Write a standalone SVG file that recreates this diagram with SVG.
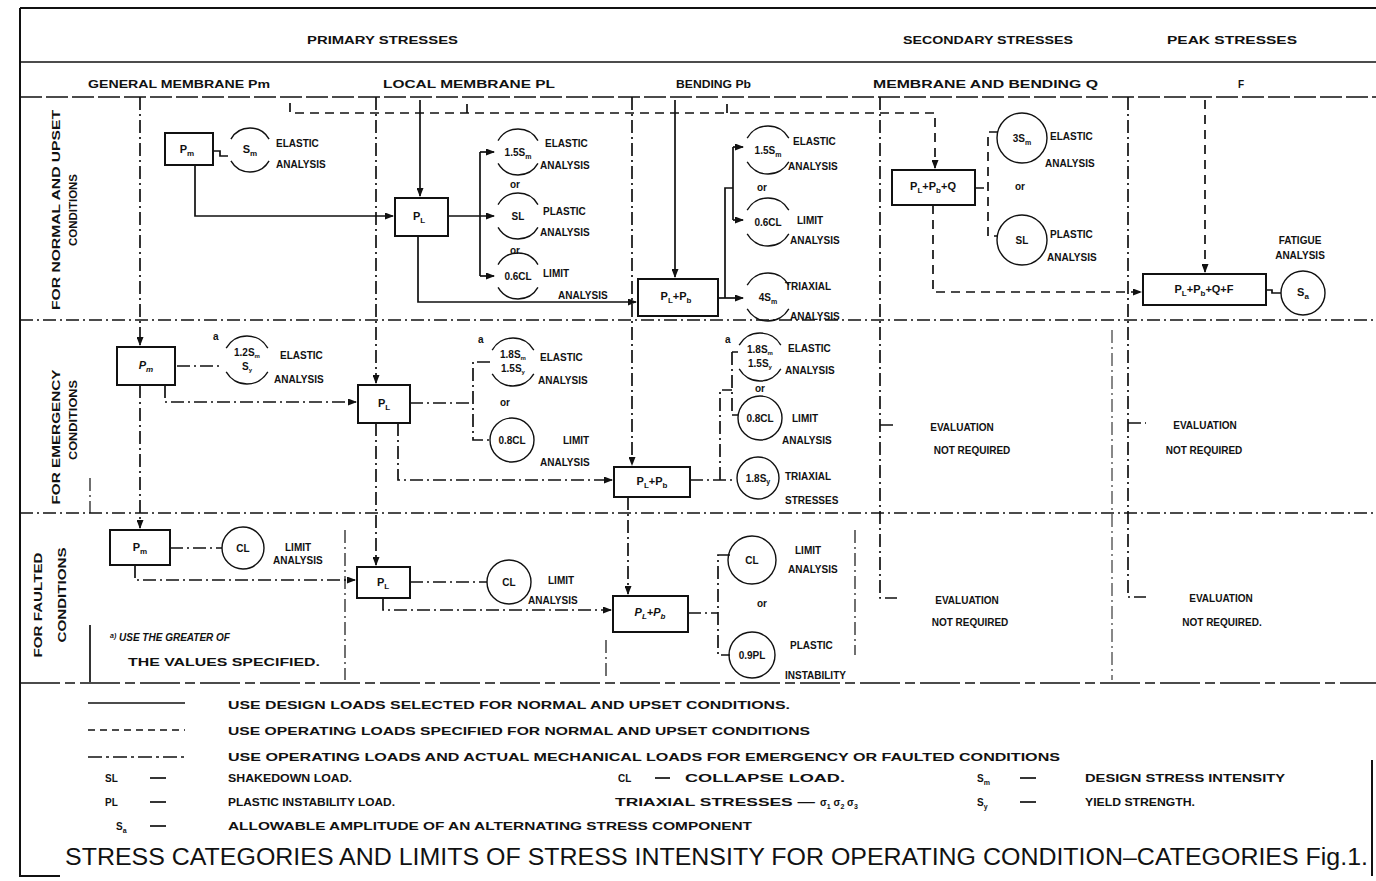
<svg xmlns="http://www.w3.org/2000/svg" width="1376" height="881" viewBox="0 0 1376 881">
<defs>
<marker id="ar" markerWidth="9" markerHeight="7" refX="8" refY="3.5" orient="auto" markerUnits="userSpaceOnUse"><path d="M0,0 L9,3.5 L0,7 z" fill="#111"/></marker>
<style>
.s{stroke:#111;fill:none;stroke-width:1.7}
.d{stroke-dasharray:9 6}
.dd{stroke-dasharray:13 4 2 4}
.fr{stroke:#111;fill:none;stroke-width:2}
.bx{fill:#fff;stroke:#111;stroke-width:2}
.c{fill:none;stroke:#111;stroke-width:1.4}
.cb{fill:none;stroke:#111;stroke-width:1.4;stroke-dasharray:0 30 120 60 120 30}
.t{font-family:"Liberation Sans",Arial,sans-serif;font-weight:bold;font-size:10px;fill:#111}
.tb{font-family:"Liberation Sans",Arial,sans-serif;font-weight:bold;font-size:11px;fill:#111}
.tt{font-family:"Liberation Sans",Arial,sans-serif;font-size:23px;fill:#111}
.m{text-anchor:middle}
</style>
</defs>
<rect width="1376" height="881" fill="#fff"/>

<g id="frame">
<path class="fr" d="M20,8 H1376 M20,8 V876 H60 M1372,760 V876"/>
<path class="s" d="M20,62 H1376"/>
<path class="s" d="M20,97 H1376" stroke-dasharray="22 4"/>
<path class="s dd" d="M20,320 H1376 M20,513 H1376"/>
<path class="s" d="M20,683 H1376" stroke-dasharray="40 5 10 5"/>
</g>

<g id="headers">
<text class="t" x="307" y="44" textLength="151" lengthAdjust="spacingAndGlyphs">PRIMARY STRESSES</text>
<text class="t" x="903" y="44" textLength="170" lengthAdjust="spacingAndGlyphs">SECONDARY STRESSES</text>
<text class="t" x="1167" y="44" textLength="130" lengthAdjust="spacingAndGlyphs">PEAK STRESSES</text>
<text class="t" x="88" y="88" textLength="182" lengthAdjust="spacingAndGlyphs">GENERAL MEMBRANE Pm</text>
<text class="t" x="383" y="88" textLength="172" lengthAdjust="spacingAndGlyphs">LOCAL MEMBRANE PL</text>
<text class="t" x="676" y="88" textLength="75" lengthAdjust="spacingAndGlyphs">BENDING Pb</text>
<text class="t" x="873" y="88" textLength="225" lengthAdjust="spacingAndGlyphs">MEMBRANE AND BENDING Q</text>
<text class="t" x="1238" y="88">F</text>
</g>

<g id="row-labels">
<text class="t m" transform="translate(60,210) rotate(-90)" textLength="200" lengthAdjust="spacingAndGlyphs">FOR NORMAL AND UPSET</text>
<text class="t m" transform="translate(77,210) rotate(-90)" textLength="72" lengthAdjust="spacingAndGlyphs">CONDITIONS</text>
<text class="t m" transform="translate(60,437) rotate(-90)" textLength="135" lengthAdjust="spacingAndGlyphs">FOR EMERGENCY</text>
<text class="t m" transform="translate(77,420) rotate(-90)" textLength="80" lengthAdjust="spacingAndGlyphs">CONDITIONS</text>
<text class="t m" transform="translate(42,605) rotate(-90)" textLength="105" lengthAdjust="spacingAndGlyphs">FOR FAULTED</text>
<text class="t m" transform="translate(66,595) rotate(-90)" textLength="95" lengthAdjust="spacingAndGlyphs">CONDITIONS</text>
</g>

<g id="connectors">
<g class="s">
<path d="M195,165 V216 H393" marker-end="url(#ar)"/>
<path d="M213,151 H220 V156 H228"/>
<path d="M420,100 V196" marker-end="url(#ar)"/>
<path d="M448,216 H494" marker-end="url(#ar)"/>
<path d="M480,152 V276"/>
<path d="M480,152 H494" marker-end="url(#ar)"/>
<path d="M480,276 H494" marker-end="url(#ar)"/>
<path d="M418,236 V302 H636" marker-end="url(#ar)"/>
<path d="M675,100 V277" marker-end="url(#ar)"/>
<path d="M718,298 H743" marker-end="url(#ar)"/>
<path d="M725,298 V188 H733"/>
<path d="M733,147 V220"/>
<path d="M733,147 H743" marker-end="url(#ar)"/>
<path d="M733,220 H743" marker-end="url(#ar)"/>
<path d="M1266,290 H1272 V293 H1281"/>
<path d="M90,625 V682"/>
</g>
<g class="s d">
<path d="M290,103 V113 H935 V168" marker-end="url(#ar)"/>
<path d="M467,104 V113 M727,104 V113"/>
<path d="M933,205 V292 H1141" marker-end="url(#ar)"/>
<path d="M975,188 H988 M998,132 H988 V236 H998"/>
<path d="M1205,100 V272" marker-end="url(#ar)"/>
</g>
<g class="s dd">
<path d="M140,97 V345" marker-end="url(#ar)"/>
<path d="M376,97 V383" marker-end="url(#ar)"/>
<path d="M376,423 V565" marker-end="url(#ar)"/>
<path d="M632,97 V465" marker-end="url(#ar)"/>
<path d="M628,497 V594" marker-end="url(#ar)"/>
<path d="M880,97 V598 H897 M880,425 H897"/>
<path d="M1128,97 V597 H1146 M1128,423 H1146"/>
<path d="M1112,330 V680" stroke-width="1"/>
<path d="M177,366 H222"/>
<path d="M165,385 V402 H356" marker-end="url(#ar)"/>
<path d="M140,385 V528" marker-end="url(#ar)"/>
<path d="M410,403 H473 M490,362 H473 V440 H490"/>
<path d="M398,423 V480 H612" marker-end="url(#ar)"/>
<path d="M690,480 H736 M720,480 V390 H732 M732,352 V415 M732,352 H738 M732,415 H738"/>
<path d="M170,548 H222"/>
<path d="M135,565 V580 H355" marker-end="url(#ar)"/>
<path d="M410,582 H487"/>
<path d="M383,598 V610 H611" marker-end="url(#ar)"/>
<path d="M688,613 H718 M730,555 H718 V655 H730"/>
<path d="M90,478 V513 M345,530 V680 M606,640 V680 M855,530 V655" stroke-width="1.2"/>
</g>
</g>

<g id="r1-pm"><rect class="bx" x="165" y="133" width="48" height="32"/><text class="tb m" x="187" y="153">P<tspan dy="3" font-size="8">m</tspan></text></g>
<g id="r1-sm"><circle class="cb" cx="250" cy="150" r="22" pathLength="360"/><text class="tb m" x="250" y="153">S<tspan dy="3" font-size="8">m</tspan></text>
<text class="t" x="276" y="147">ELASTIC</text><text class="t" x="276" y="168">ANALYSIS</text></g>

<g id="r1-pl"><rect class="bx" x="395" y="198" width="53" height="38"/><text class="tb m" x="419" y="220">P<tspan dy="3" font-size="8">L</tspan></text></g>
<g id="r1-pl-lim">
<circle class="cb" cx="518" cy="152" r="23" pathLength="360"/><text class="t m" x="518" y="156">1.5S<tspan dy="3" font-size="7">m</tspan></text>
<text class="t" x="545" y="147">ELASTIC</text><text class="t" x="540" y="169">ANALYSIS</text>
<text class="t m" x="515" y="188">or</text>
<circle class="cb" cx="518" cy="216" r="23" pathLength="360"/><text class="t m" x="518" y="220">SL</text>
<text class="t" x="543" y="215">PLASTIC</text><text class="t" x="540" y="236">ANALYSIS</text>
<text class="t m" x="515" y="254">or</text>
<circle class="cb" cx="518" cy="276" r="23" pathLength="360"/><text class="t m" x="518" y="280">0.6CL</text>
<text class="t" x="543" y="277">LIMIT</text><text class="t" x="558" y="299">ANALYSIS</text>
</g>

<g id="r1-plpb"><rect class="bx" x="638" y="279" width="80" height="37"/><text class="tb m" x="676" y="300">P<tspan dy="3" font-size="8">L</tspan><tspan dy="-3">+P</tspan><tspan dy="3" font-size="8">b</tspan></text></g>
<g id="r1-pb-lim">
<circle class="cb" cx="768" cy="150" r="24" pathLength="360"/><text class="t m" x="768" y="154">1.5S<tspan dy="3" font-size="7">m</tspan></text>
<text class="t" x="793" y="145">ELASTIC</text><text class="t" x="788" y="170">ANALYSIS</text>
<text class="t m" x="762" y="191">or</text>
<circle class="cb" cx="768" cy="222" r="24" pathLength="360"/><text class="t m" x="768" y="226">0.6CL</text>
<text class="t" x="797" y="224">LIMIT</text><text class="t" x="790" y="244">ANALYSIS</text>
<circle class="cb" cx="768" cy="297" r="24" pathLength="360"/><text class="t m" x="768" y="301">4S<tspan dy="3" font-size="7">m</tspan></text>
<text class="t" x="785" y="290">TRIAXIAL</text><text class="t" x="790" y="320">ANALYSIS</text>
</g>

<g id="r1-plpbq"><rect class="bx" x="892" y="170" width="83" height="35"/><text class="tb m" x="933" y="190">P<tspan dy="3" font-size="8">L</tspan><tspan dy="-3">+P</tspan><tspan dy="3" font-size="8">b</tspan><tspan dy="-3">+Q</tspan></text></g>
<g id="r1-q-lim">
<circle class="c" cx="1022" cy="138" r="25"/><text class="t m" x="1022" y="142">3S<tspan dy="3" font-size="7">m</tspan></text>
<text class="t" x="1050" y="140">ELASTIC</text><text class="t" x="1045" y="167">ANALYSIS</text>
<text class="t m" x="1020" y="190">or</text>
<circle class="c" cx="1022" cy="240" r="25"/><text class="t m" x="1022" y="244">SL</text>
<text class="t" x="1050" y="238">PLASTIC</text><text class="t" x="1047" y="261">ANALYSIS</text>
</g>

<g id="r1-pqf"><rect class="bx" x="1143" y="274" width="123" height="31"/><text class="tb m" x="1204" y="293">P<tspan dy="3" font-size="8">L</tspan><tspan dy="-3">+P</tspan><tspan dy="3" font-size="8">b</tspan><tspan dy="-3">+Q+F</tspan></text></g>
<g id="r1-sa"><circle class="c" cx="1303" cy="293" r="22"/><text class="tb m" x="1303" y="296">S<tspan dy="3" font-size="8">a</tspan></text>
<text class="t m" x="1300" y="244">FATIGUE</text><text class="t m" x="1300" y="259">ANALYSIS</text></g>

<g id="r2-pm"><rect class="bx" x="117" y="347" width="58" height="38"/><text class="tb m" x="146" y="369" font-style="italic">P<tspan dy="3" font-size="8">m</tspan></text></g>
<g id="r2-pm-lim">
<text class="t" x="213" y="340" font-size="8">a</text>
<circle class="cb" cx="247" cy="360" r="24" pathLength="360"/><text class="t m" x="247" y="356" font-size="8">1.2S<tspan dy="2" font-size="6">m</tspan></text><text class="t m" x="247" y="370" font-size="8">S<tspan dy="2" font-size="6">y</tspan></text>
<text class="t" x="280" y="359">ELASTIC</text><text class="t" x="274" y="383">ANALYSIS</text>
</g>

<g id="r2-pl"><rect class="bx" x="358" y="385" width="52" height="38"/><text class="tb m" x="384" y="407">P<tspan dy="3" font-size="8">L</tspan></text></g>
<g id="r2-pl-lim">
<text class="t" x="478" y="343" font-size="8">a</text>
<circle class="cb" cx="513" cy="362" r="24" pathLength="360"/><text class="t m" x="513" y="358" font-size="8">1.8S<tspan dy="2" font-size="6">m</tspan></text><text class="t m" x="513" y="372" font-size="8">1.5S<tspan dy="2" font-size="6">y</tspan></text>
<text class="t" x="540" y="361">ELASTIC</text><text class="t" x="538" y="384">ANALYSIS</text>
<text class="t m" x="505" y="406">or</text>
<circle class="c" cx="512" cy="440" r="22"/><text class="t m" x="512" y="444">0.8CL</text>
<text class="t" x="563" y="444">LIMIT</text><text class="t" x="540" y="466">ANALYSIS</text>
</g>

<g id="r2-plpb"><rect class="bx" x="614" y="467" width="76" height="30"/><text class="tb m" x="652" y="485">P<tspan dy="3" font-size="8">L</tspan><tspan dy="-3">+P</tspan><tspan dy="3" font-size="8">b</tspan></text></g>
<g id="r2-pb-lim">
<text class="t" x="725" y="343" font-size="8">a</text>
<circle class="cb" cx="760" cy="357" r="24" pathLength="360"/><text class="t m" x="760" y="353" font-size="8">1.8S<tspan dy="2" font-size="6">m</tspan></text><text class="t m" x="760" y="367" font-size="8">1.5S<tspan dy="2" font-size="6">y</tspan></text>
<text class="t" x="788" y="352">ELASTIC</text><text class="t" x="785" y="374">ANALYSIS</text>
<text class="t m" x="760" y="392">or</text>
<circle class="c" cx="760" cy="418" r="22"/><text class="t m" x="760" y="422">0.8CL</text>
<text class="t" x="792" y="422">LIMIT</text><text class="t" x="782" y="444">ANALYSIS</text>
<circle class="c" cx="758" cy="478" r="21"/><text class="t m" x="758" y="482">1.8S<tspan dy="2" font-size="7">y</tspan></text>
<text class="t" x="785" y="480">TRIAXIAL</text><text class="t" x="785" y="504">STRESSES</text>
</g>

<g id="r3-pm"><rect class="bx" x="110" y="530" width="60" height="35"/><text class="tb m" x="140" y="551">P<tspan dy="3" font-size="8">m</tspan></text></g>
<g id="r3-pm-lim"><circle class="c" cx="243" cy="548" r="21"/><text class="t m" x="243" y="552">CL</text>
<text class="t" x="285" y="551">LIMIT</text><text class="t" x="273" y="564">ANALYSIS</text></g>

<g id="r3-pl"><rect class="bx" x="357" y="567" width="53" height="31"/><text class="tb m" x="383" y="586">P<tspan dy="3" font-size="8">L</tspan></text></g>
<g id="r3-pl-lim"><circle class="c" cx="509" cy="582" r="22"/><text class="t m" x="509" y="586">CL</text>
<text class="t" x="548" y="584">LIMIT</text><text class="t" x="528" y="604">ANALYSIS</text></g>

<g id="r3-plpb"><rect class="bx" x="613" y="596" width="75" height="36"/><text class="tb m" x="650" y="616" font-style="italic">P<tspan dy="3" font-size="8">L</tspan><tspan dy="-3">+P</tspan><tspan dy="3" font-size="8">b</tspan></text></g>
<g id="r3-pb-lim">
<circle class="c" cx="752" cy="560" r="24"/><text class="t m" x="752" y="564">CL</text>
<text class="t" x="795" y="554">LIMIT</text><text class="t" x="788" y="573">ANALYSIS</text>
<text class="t m" x="762" y="607">or</text>
<circle class="c" cx="752" cy="655" r="23"/><text class="t m" x="752" y="659">0.9PL</text>
<text class="t" x="790" y="649">PLASTIC</text><text class="t" x="785" y="679">INSTABILITY</text>
</g>

<g id="not-required">
<text class="t m" x="962" y="431">EVALUATION</text><text class="t m" x="972" y="454">NOT REQUIRED</text>
<text class="t m" x="1205" y="429">EVALUATION</text><text class="t m" x="1204" y="454">NOT REQUIRED</text>
<text class="t m" x="967" y="604">EVALUATION</text><text class="t m" x="970" y="626">NOT REQUIRED</text>
<text class="t m" x="1221" y="602">EVALUATION</text><text class="t m" x="1222" y="626">NOT REQUIRED.</text>
</g>

<g id="footnote">
<text class="t" x="110" y="641" font-style="italic"><tspan font-size="7" dy="-3">a)</tspan><tspan dy="3"> USE THE GREATER OF</tspan></text>
<text class="t" x="128" y="666" textLength="192" lengthAdjust="spacingAndGlyphs">THE VALUES SPECIFIED.</text>
</g>

<g id="legend">
<path class="s" d="M88,703 H185"/>
<path class="s" d="M88,730 H185" stroke-dasharray="7 5"/>
<path class="s" d="M88,757 H185" stroke-dasharray="14 4 3 4"/>
<text class="t" x="228" y="709" textLength="562" lengthAdjust="spacingAndGlyphs">USE DESIGN LOADS SELECTED FOR NORMAL AND UPSET CONDITIONS.</text>
<text class="t" x="228" y="735" textLength="582" lengthAdjust="spacingAndGlyphs">USE OPERATING LOADS SPECIFIED FOR NORMAL AND UPSET CONDITIONS</text>
<text class="t" x="228" y="761" textLength="832" lengthAdjust="spacingAndGlyphs">USE OPERATING LOADS AND ACTUAL MECHANICAL LOADS FOR EMERGENCY OR FAULTED CONDITIONS</text>
<text class="t" x="105" y="782">SL</text><path class="s" d="M150,778 H166"/><text class="t" x="228" y="782" textLength="124" lengthAdjust="spacingAndGlyphs">SHAKEDOWN LOAD.</text>
<text class="t" x="105" y="806">PL</text><path class="s" d="M150,802 H166"/><text class="t" x="228" y="806" textLength="167" lengthAdjust="spacingAndGlyphs">PLASTIC INSTABILITY LOAD.</text>
<text class="t" x="116" y="830">S<tspan dy="3" font-size="7">a</tspan></text><path class="s" d="M150,826 H166"/><text class="t" x="228" y="830" textLength="524" lengthAdjust="spacingAndGlyphs">ALLOWABLE AMPLITUDE OF AN ALTERNATING STRESS COMPONENT</text>
<text class="t" x="618" y="782">CL</text><path class="s" d="M655,778 H670"/><text class="t" x="685" y="782" textLength="160" lengthAdjust="spacingAndGlyphs">COLLAPSE LOAD.</text>
<text class="t" x="615" y="806" textLength="200" lengthAdjust="spacingAndGlyphs">TRIAXIAL STRESSES —</text>
<text class="t" x="820" y="806">σ<tspan dy="3" font-size="7">1</tspan><tspan dy="-3">  σ</tspan><tspan dy="3" font-size="7">2</tspan><tspan dy="-3">  σ</tspan><tspan dy="3" font-size="7">3</tspan></text>
<text class="t" x="977" y="782">S<tspan dy="3" font-size="7">m</tspan></text><path class="s" d="M1020,778 H1036"/><text class="t" x="1085" y="782" textLength="200" lengthAdjust="spacingAndGlyphs">DESIGN STRESS INTENSITY</text>
<text class="t" x="977" y="806">S<tspan dy="3" font-size="7">y</tspan></text><path class="s" d="M1020,802 H1036"/><text class="t" x="1085" y="806" textLength="110" lengthAdjust="spacingAndGlyphs">YIELD STRENGTH.</text>
<text class="tt" x="65" y="865" textLength="1303" lengthAdjust="spacingAndGlyphs">STRESS CATEGORIES AND LIMITS OF STRESS INTENSITY FOR OPERATING CONDITION–CATEGORIES Fig.1.</text>
</g>
</svg>
